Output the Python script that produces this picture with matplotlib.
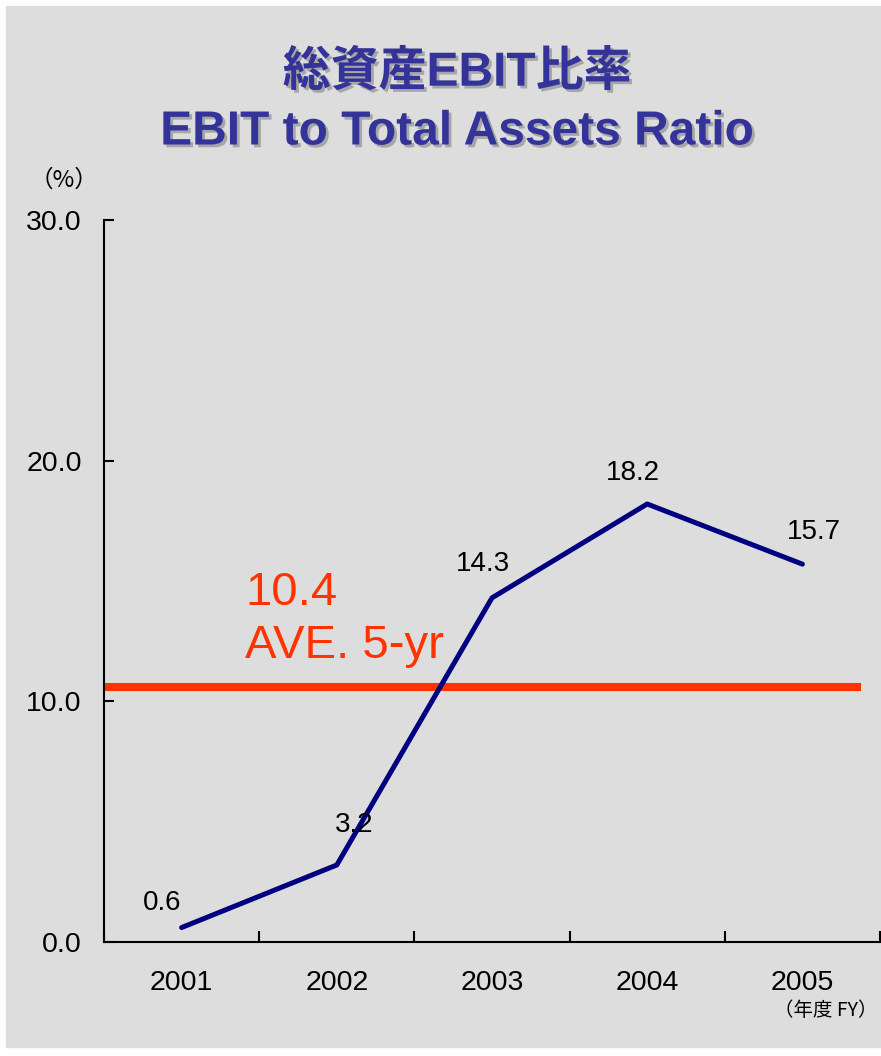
import matplotlib.pyplot as plt
import matplotlib.patheffects as pe
from matplotlib.patches import Rectangle
import numpy as np

# data
years = ['2001', '2002', '2003', '2004', '2005']
ratio = [0.6, 3.2, 14.3, 18.2, 15.7]
ave_label = '10.4'
ave_level = 10.6   # where the line is drawn in the picture
yticks = [0.0, 10.0, 20.0, 30.0]

plt.rcParams['font.family'] = ['Liberation Sans', 'Noto Sans CJK JP']

fig = plt.figure(figsize=(8.81, 10.56), dpi=100)
fig.patches.append(Rectangle((6 / 881, 9 / 1056), 875 / 881, 1041 / 1056,
                             transform=fig.transFigure, color='#dddddd', zorder=-5))

ax = fig.add_axes([104 / 881, 114 / 1056, 776 / 881, 722 / 1056])
ax.set_facecolor('none')
ax.set_zorder(2)

x = np.arange(len(years))
ax.plot(x, ratio, color='#000080', lw=3.6, solid_capstyle='round', zorder=3)
ax.plot([-0.5, 4.35], [ave_level, ave_level], color='#ff3300', lw=5.8, zorder=2)

# value labels
offs = [(-19, 25), (17, 40), (-9, 34), (-14, 31), (11, 32)]
for xi, v, (dx, dy) in zip(x, ratio, offs):
    ax.annotate(f'{v:.1f}', (xi, v), xytext=(dx * 0.72, dy * 0.72), textcoords='offset points',
                ha='center', va='center', fontsize=20)

ax.text(0.41, 14.5, ave_label, color='#ff3300', fontsize=34, ha='left', va='center')
ax.text(0.41, 12.3, 'AVE. 5-yr', color='#ff3300', fontsize=34, ha='left', va='center')

ax.set_xlim(-0.5, 4.5)
ax.set_ylim(0, 30)
ax.set_xticks(x)
ax.set_xticklabels(years, fontsize=20.5)
ax.set_xticks(np.arange(-0.5, 4.6, 1), minor=True)
ax.tick_params(axis='x', which='major', length=0, pad=20)
ax.tick_params(axis='x', which='minor', direction='in', length=8, width=1.5)
ax.set_yticks(yticks)
ax.set_yticklabels([f'{t:.1f}' for t in yticks], fontsize=20.5)
ax.tick_params(axis='y', direction='in', length=7, width=1.5, pad=16)
for s in ['top', 'right']:
    ax.spines[s].set_visible(False)
for s in ['left', 'bottom']:
    ax.spines[s].set_linewidth(1.5)

shadow = [pe.withSimplePatchShadow(offset=(2, -2), shadow_rgbFace='#999999', alpha=0.8)]
fig.text(457 / 881, 1 - 73 / 1056, '総資産EBIT比率', color='#333399', fontsize=34.5,
         fontweight='bold', ha='center', va='center', path_effects=shadow)
fig.text(457 / 881, 1 - 132 / 1056, 'EBIT to Total Assets Ratio', color='#333399', fontsize=34.5,
         fontweight='bold', ha='center', va='center', path_effects=shadow)

fig.text(64 / 881, 1 - 180 / 1056, '（%）', fontsize=17, ha='center', va='center',
         family=['Noto Sans CJK JP'])
fig.text(826 / 881, 1 - 1010 / 1056, '（年度 FY）', fontsize=14, ha='center', va='center',
         family=['Noto Sans CJK JP'])

fig.savefig('out.png', dpi=100)
